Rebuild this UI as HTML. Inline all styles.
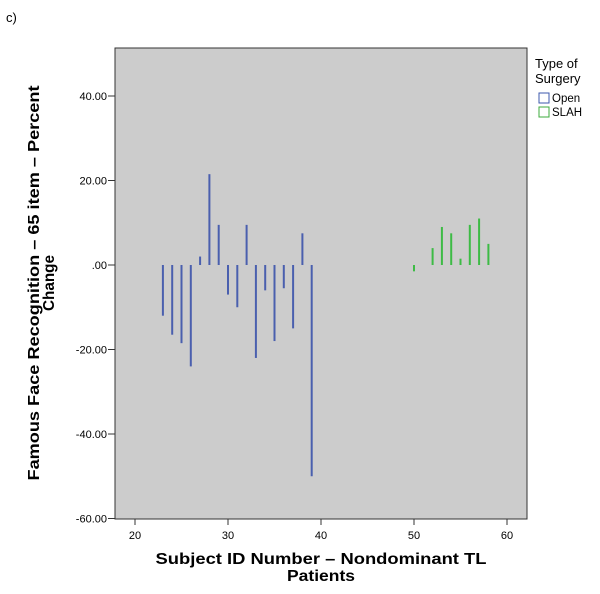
<!DOCTYPE html>
<html><head><meta charset="utf-8"><style>
body{margin:0;background:#fff;width:600px;height:589px;overflow:hidden}
svg{font-family:"Liberation Sans","DejaVu Sans",sans-serif}
</style></head><body>
<svg width="600" height="589">
<text x="6" y="22" font-size="13">c)</text>
<rect x="115" y="48" width="412" height="471" fill="#cccccc" stroke="#333" stroke-width="1"/>
<g id="yt"></g>
<g id="xt"></g>
<g id="bars"></g>
<text transform="translate(39,283) rotate(-90)" text-anchor="middle" font-size="16" font-weight="bold" textLength="395" lengthAdjust="spacingAndGlyphs">Famous Face Recognition – 65 item – Percent</text>
<text transform="translate(54,283) rotate(-90)" text-anchor="middle" font-size="16" font-weight="bold" textLength="56" lengthAdjust="spacingAndGlyphs">Change</text>
<text x="321" y="564" text-anchor="middle" font-size="16" font-weight="bold" textLength="331" lengthAdjust="spacingAndGlyphs">Subject ID Number – Nondominant TL</text>
<text x="321" y="581" text-anchor="middle" font-size="16" font-weight="bold" textLength="68" lengthAdjust="spacingAndGlyphs">Patients</text>
<g>
<text x="535" y="68" font-size="13">Type of</text>
<text x="535" y="83" font-size="13">Surgery</text>
<rect x="539" y="93" width="10" height="10" fill="none" stroke="#3e58ac"/>
<text x="552" y="102" font-size="11.5">Open</text>
<rect x="539" y="107" width="10" height="10" fill="none" stroke="#3dab3d"/>
<text x="552" y="116" font-size="11.5">SLAH</text>
</g>
</svg>
<script>
const openIds=[23,24,25,26,27,28,29,30,31,32,33,34,35,36,37,38,39];
const openVals=[-12,-16.5,-18.5,-24,2,21.5,9.5,-7,-10,9.5,-22,-6,-18,-5.5,-15,7.5,-50];
const slahIds=[50,52,53,54,55,56,57,58];
const slahVals=[-1.5,4,9,7.5,1.5,9.5,11,5];
const yTicks=[40,20,0,-20,-40,-60];
const yTickLabels=["40.00","20.00",".00","-20.00","-40.00","-60.00"];
const xTicks=[20,30,40,50,60];
const NS="http://www.w3.org/2000/svg";
const sx=v=>135+(v-20)*9.3;
const sy=v=>265-v*4.225;
function mk(t,a,p){const e=document.createElementNS(NS,t);for(const k in a)e.setAttribute(k,a[k]);p.appendChild(e);return e;}
const yt=document.getElementById('yt');
yTicks.forEach((v,i)=>{
 const l=mk('line',{x1:108,x2:115,y1:sy(v),y2:sy(v),stroke:'#333'},yt);
 
 
 const t=mk('text',{x:107,y:sy(v)+4,'text-anchor':'end','font-size':11},yt);
 t.textContent=yTickLabels[i];
 
 
});
const xt=document.getElementById('xt');
xTicks.forEach(v=>{
 const l=mk('line',{x1:sx(v),x2:sx(v),y1:519,y2:525,stroke:'#333'},xt);
 
 
 const t=mk('text',{x:sx(v),y:539,'text-anchor':'middle','font-size':11},xt);
 t.textContent=v;
 
 
});
const bars=document.getElementById('bars');
function draw(ids,vals,col,name){
 ids.forEach((id,i)=>{
  const y1=sy(0),y2=sy(vals[i]);
  const r=mk('rect',{x:sx(id)-1,y:Math.min(y1,y2),width:2,height:Math.max(1,Math.abs(y2-y1)),fill:col},bars);
  
  
 });
}
draw(openIds,openVals,'#4a5fae','bar-open');
draw(slahIds,slahVals,'#3dbb45','bar-slah');
</script>
</body></html>
